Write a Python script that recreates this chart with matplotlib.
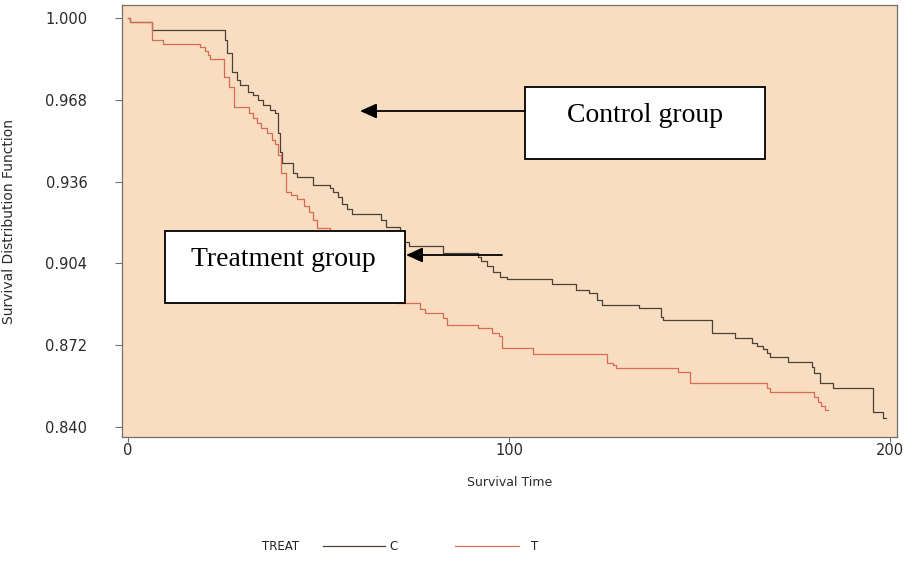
import matplotlib
matplotlib.use("Agg")
import matplotlib.pyplot as plt
from matplotlib.patches import Rectangle, FancyArrowPatch

# ---- data (Kaplan-Meier step estimates) ----
c_time = [0, 0.5, 6.3, 25.5, 26.0, 27.3, 28.6, 29.4, 31.5, 32.8, 34.1, 35.4, 37.3,
          38.6, 39.4, 39.9, 40.4, 43.3, 44.4, 48.6, 53.0, 53.8, 55.1, 56.2, 57.5,
          58.8, 66.4, 67.7, 71.4, 73.8, 82.7, 91.9, 92.7, 94.2, 95.8, 97.6, 99.5,
          111.3, 117.6, 121.0, 123.1, 124.4, 134.1, 139.9, 140.4, 153.3, 159.3,
          163.8, 165.1, 166.7, 167.7, 168.5, 173.2, 179.5, 180.1, 181.6, 185.0,
          195.5, 198.2, 198.8]
c_surv = [1.0, 0.9984, 0.9953, 0.9914, 0.9863, 0.9789, 0.9757, 0.9738, 0.9711,
          0.9699, 0.9679, 0.9660, 0.9640, 0.9628, 0.9550, 0.9476, 0.9433, 0.9394,
          0.9378, 0.9347, 0.9335, 0.9319, 0.9300, 0.9272, 0.9253, 0.9233, 0.9210,
          0.9182, 0.9124, 0.9108, 0.9081, 0.9065, 0.9049, 0.9030, 0.9006, 0.8987,
          0.8979, 0.8959, 0.8936, 0.8924, 0.8897, 0.8877, 0.8865, 0.8830, 0.8819,
          0.8768, 0.8748, 0.8729, 0.8717, 0.8705, 0.8689, 0.8674, 0.8654, 0.8635,
          0.8611, 0.8572, 0.8552, 0.8459, 0.8435, 0.8435]

t_time = [0, 0.5, 6.3, 9.2, 18.9, 20.2, 21.0, 21.5, 25.2, 26.5, 27.8, 31.8, 32.8,
          33.9, 34.9, 36.5, 37.8, 38.6, 39.4, 40.2, 41.5, 42.8, 44.4, 46.2, 47.5,
          48.6, 49.6, 53.0, 57.0, 60.9, 64.8, 68.8, 70.6, 76.6, 78.0, 82.7, 83.7,
          91.9, 95.5, 97.4, 98.2, 106.3, 125.7, 127.3, 128.1, 144.4, 147.5, 167.7,
          168.5, 180.1, 181.1, 181.9, 182.9, 183.7]
t_surv = [1.0, 0.9984, 0.9914, 0.9898, 0.9887, 0.9871, 0.9855, 0.9840, 0.9769,
          0.9730, 0.9652, 0.9628, 0.9609, 0.9589, 0.9570, 0.9550, 0.9523, 0.9507,
          0.9464, 0.9394, 0.9319, 0.9308, 0.9292, 0.9265, 0.9241, 0.9210, 0.9178,
          0.9132, 0.9085, 0.9034, 0.8975, 0.8924, 0.8885, 0.8862, 0.8846, 0.8826,
          0.8799, 0.8787, 0.8768, 0.8756, 0.8709, 0.8685, 0.8650, 0.8642, 0.8631,
          0.8615, 0.8572, 0.8552, 0.8537, 0.8517, 0.8498, 0.8482, 0.8466, 0.8466]

group_labels = ["C", "T"]
y_ticks = [0.840, 0.872, 0.904, 0.936, 0.968, 1.000]
x_ticks = [0, 100, 200]

W, H = 911, 575
fig = plt.figure(figsize=(W / 100, H / 100), dpi=100)
fig.patch.set_facecolor("white")


def fx(px):
    return px / W


def fy(py):
    return 1 - py / H


ax = fig.add_axes([fx(122), fy(437), fx(897) - fx(122), fy(5) - fy(437)])
ax.set_facecolor("#F8DDC0")

c_color = "#4a4139"
t_color = "#DA6A52"
ax.step(c_time, c_surv, where="post", color=c_color, lw=0.9)
ax.step(t_time, t_surv, where="post", color=t_color, lw=0.9)

ax.set_xlim(-1.6, 201.8)
ax.set_ylim(0.8361, 1.0051)
ax.set_yticks(y_ticks)
ax.set_yticklabels([f"{v:.3f}" for v in y_ticks])
ax.set_xticks(x_ticks)
for s in ax.spines.values():
    s.set_color("#707070")
    s.set_linewidth(0.9)
ax.tick_params(axis="y", direction="out", length=5, width=0.8, color="#707070",
               labelsize=10.5, labelcolor="#2a2a2a", pad=20)
ax.tick_params(axis="x", direction="out", length=3.5, width=0.8, color="#707070",
               labelsize=10.5, labelcolor="#2a2a2a", pad=1)
for lab in ax.get_xticklabels() + ax.get_yticklabels():
    lab.set_family("DejaVu Sans")

ax.set_ylabel("Survival Distribution Function", fontsize=10, color="#2a2a2a",
              labelpad=21)
ax.set_xlabel("Survival Time", fontsize=9, color="#2a2a2a", labelpad=13)

# ---- legend ----
ly = fy(546)
fig.text(fx(281), ly, "TREAT", fontsize=8.5, color="#222222", ha="center", va="center")
fig.add_artist(plt.Line2D([fx(323), fx(385)], [ly, ly], color=c_color, lw=0.9))
fig.text(fx(393), ly, group_labels[0], fontsize=8.5, color="#222222", ha="center",
         va="center")
fig.add_artist(plt.Line2D([fx(455), fx(519)], [ly, ly], color=t_color, lw=0.9))
fig.text(fx(535), ly, group_labels[1], fontsize=8.5, color="#222222", ha="center",
         va="center")

# ---- annotation boxes ----
def box(x0, y0, x1, y1, text, tx, ty):
    r = Rectangle((fx(x0), fy(y1)), fx(x1) - fx(x0), fy(y0) - fy(y1),
                  transform=fig.transFigure, facecolor="white", edgecolor="black",
                  lw=1.3, zorder=5)
    fig.add_artist(r)
    fig.text(fx(tx), fy(ty), text, fontsize=20, family="Liberation Serif",
             ha="center", va="center", color="black", zorder=6)


def arrow(x0, y, x1):
    a = FancyArrowPatch((fx(x0), fy(y)), (fx(x1), fy(y)), transform=fig.transFigure,
                        arrowstyle="-|>,head_length=10,head_width=4.5",
                        mutation_scale=1, color="black", lw=1.3, zorder=6,
                        shrinkA=0, shrinkB=0)
    fig.add_artist(a)


box(525, 87, 765, 159, "Control group", 645, 116)
arrow(525, 111, 360)
box(165, 231, 405, 303, "Treatment group", 283, 259)
arrow(502, 255, 406)

fig.savefig("out.png", dpi=100)
